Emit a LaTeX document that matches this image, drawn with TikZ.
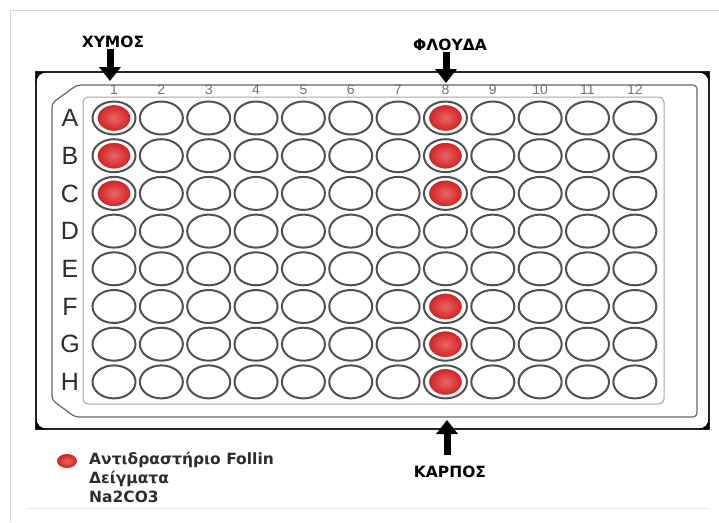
\documentclass[tikz,border=0pt]{standalone}
\usepackage{fontspec}
\setmainfont{Liberation Sans}
\newfontfamily\tagfont{DejaVu Sans}
\usetikzlibrary{arrows.meta,shapes.geometric,positioning}

\definecolor{wellred}{RGB}{226,36,36}
\definecolor{welledge}{RGB}{80,80,80}
\definecolor{inkgray}{RGB}{45,45,45}

\tikzset{
  well/.style={ellipse, draw=welledge, line width=2pt, minimum width=43pt, minimum height=33pt, inner sep=0pt},
  redwell/.style={ellipse, inner color=wellred!70!white, outer color=wellred!92!black, draw=white, line width=1.2pt, minimum width=34pt, minimum height=27pt, inner sep=0pt},
  rowlbl/.style={font=\fontsize{25}{25}\selectfont, text=inkgray},
  collbl/.style={font=\fontsize{14}{14}\selectfont, text=black!55},
  tag/.style={font=\tagfont\bfseries\fontsize{15.5}{15.5}\selectfont, text=black, inner sep=1pt},
  bigarrow/.style={line width=7pt, -{Triangle[width=21pt,length=14pt]}},
}

\begin{document}
\begin{tikzpicture}[x=1pt, y=-1pt, >=Stealth, every node/.style={font=\small}]
  \useasboundingbox (0,0) rectangle (719,522);
  % faint page frame
  \draw[black!15, line width=1pt] (10,522) -- (10,10) -- (719,10);
  \draw[black!10, line width=1pt] (28,508) -- (710,508);

  % plate outline
  \draw[black!85, line width=1.4pt] (36,72) rectangle (709,429);
  \fill[black] (36,72) -- (47,72) .. controls (40,73) and (37,76) .. (36,83) -- cycle;
  \fill[black] (709,72) -- (698,72) .. controls (705,73) and (708,76) .. (709,83) -- cycle;
  \fill[black] (36,429) -- (47,429) .. controls (40,428) and (37,425) .. (36,418) -- cycle;
  \fill[black] (709,429) -- (698,429) .. controls (705,428) and (708,425) .. (709,418) -- cycle;
  \draw[black!60, line width=1.2pt, rounded corners=4pt] (77,85) -- (697,85) -- (697,417) -- (75,417) -- (52,400) -- (52,103) -- cycle;
  \draw[black!35, line width=1pt, rounded corners=5pt] (83,97) rectangle (664,404);

  % wells
  \foreach \r [count=\i] in {A,B,C,D,E,F,G,H} {
    \node[rowlbl] (row\r) at (70, {118+(\i-1)*37.7}) {\r};
    \foreach \c in {1,...,12} {
      \node[well] (w\r\c) at ({114+(\c-1)*47.35}, {118+(\i-1)*37.7}) {};
    }
  }
  \foreach \c in {1,...,12} {
    \node[collbl] (col\c) at ({114+(\c-1)*47.35}, 90) {\c};
  }
  \foreach \pos in {A1, B1, C1, A8, B8, C8, F8, G8, H8} {
    \node[redwell] (fill\pos) at (w\pos) {};
  }

  % samples
  \node[tag] (xymos) at (113,42) {ΧΥΜΟΣ};
  \coordinate (xymostip) at (110,81);
  \draw[bigarrow] (xymos.south -| xymostip) -- (xymostip);

  \node[tag] (floyda) at (450,45) {ΦΛΟΥΔΑ};
  \coordinate (floydatip) at (446,83);
  \draw[bigarrow] (floyda.south -| floydatip) -- (floydatip);

  \node[tag] (karpos) at (450,472) {ΚΑΡΠΟΣ};
  \coordinate (karpostip) at (447,420);
  \draw[bigarrow, shorten <=10pt] (karpos.north -| karpostip) -- (karpostip);

  % legend
  \node[ellipse, inner color=wellred!70!white, outer color=wellred!92!black, minimum width=20pt, minimum height=14pt, inner sep=0pt] (legdot) at (67,461) {};
  \node[tag, anchor=west, align=left, text=inkgray, font=\tagfont\bfseries\fontsize{15.5}{19}\selectfont] (legtxt) at (88,477) {Αντιδραστήριο Follin\\Δείγματα\\Na2CO3};
\end{tikzpicture}
\end{document}
